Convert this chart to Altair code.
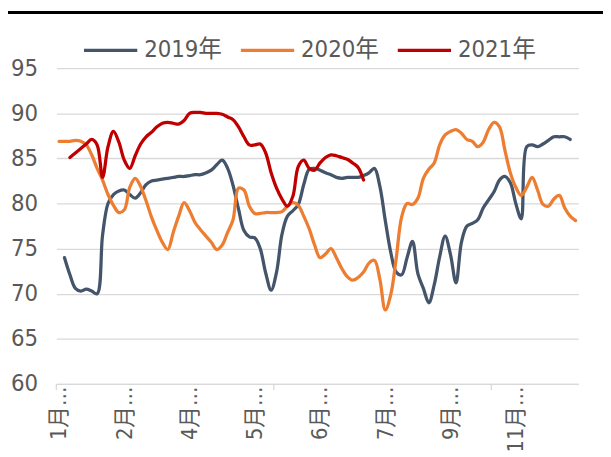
import json
import altair as alt
import pandas as pd

# ---- data ----
idx = list(range(96))
y2019 = [None, 74.0, 72.1, 70.6, 70.3, 70.5, 70.3, 70.0, 76.5, 80.0,
         81.0, 81.4, 81.5, 81.0, 80.6, 81.2, 82.1, 82.5, 82.6, 82.7,
         82.8, 82.9, 83.0, 83.0, 83.1, 83.2, 83.2, 83.4, 83.7, 84.3,
         84.8, 83.9, 82.0, 79.4, 77.0, 76.3, 76.2, 75.0, 72.3, 70.4,
         72.4, 76.6, 78.6, 79.2, 79.9, 82.1, 83.8, 83.9, 83.7, 83.4,
         83.2, 82.9, 82.8, 82.9, 82.9, 82.9, 83.1, 83.4, 83.9, 81.9,
         78.1, 74.6, 72.4, 72.1, 74.0, 75.8, 72.2, 70.6, 69.0, 71.0,
         74.1, 76.4, 74.3, 71.2, 75.7, 77.5, 77.8, 78.2, 79.5, 80.4,
         81.3, 82.6, 83.0, 82.3, 80.0, 78.3, 86.3, 86.5, 86.3, 86.6,
         87.0, 87.4, 87.4, 87.4, 87.1, None]
y2020 = [86.9, 86.9, 86.9, 87.0, 86.9, 86.5, 85.4, 83.9, 82.6, 81.0,
         79.8, 79.0, 79.3, 81.8, 82.8, 81.9, 80.3, 78.5, 77.0, 75.7,
         74.9, 76.8, 78.6, 80.1, 79.2, 77.9, 77.1, 76.4, 75.7, 74.9,
         75.4, 76.8, 78.2, 81.7, 81.5, 79.7, 78.9, 78.9, 79.0, 79.0,
         79.0, 79.1, 79.7, 80.1, 79.8, 78.6, 77.2, 75.4, 74.0, 74.4,
         75.0, 74.0, 72.8, 71.9, 71.5, 71.8, 72.4, 73.4, 73.7, 71.6,
         68.2, 69.9, 73.9, 78.5, 80.0, 79.9, 80.6, 82.8, 83.8, 84.5,
         86.5, 87.6, 88.0, 88.2, 87.8, 87.1, 86.9, 86.3, 86.8, 88.2,
         89.0, 88.5, 85.9, 83.4, 81.8, 80.9, 81.8, 82.9, 81.5, 79.9,
         79.7, 80.5, 80.9, 79.5, 78.6, 78.1]
y2021 = [None, None, 85.1, 85.6, 86.1, 86.6, 87.1, 86.5, 82.9, 86.3,
         88.0, 86.8, 84.8, 83.9, 85.3, 86.6, 87.4, 87.9, 88.5, 88.9,
         89.0, 88.9, 88.8, 89.2, 90.0, 90.1, 90.1, 90.0, 90.0, 90.0,
         89.9, 89.6, 89.3, 88.5, 87.4, 86.5, 86.5, 86.6, 85.6, 83.4,
         81.7, 80.5, 79.7, 80.8, 84.1, 84.8, 83.9, 83.7, 84.5, 85.1,
         85.4, 85.3, 85.1, 84.9, 84.5, 84.0, 82.6] + [None] * 39

years = ["2019年", "2020年", "2021年"]
colors = ["#44546A", "#ED7D31", "#C00000"]
widths = [3.3, 3.3, 5]
label_pos = [0, 12, 24, 36, 48, 60, 72, 84]
label_txt = ["1月…", "2月…", "4月…", "5月…", "6月…", "7月…", "9月…", "11月…"]
tick_pos = [-0.5, 39.5, 79.5]
y_ticks = [60, 65, 70, 75, 80, 85, 90, 95]

rows = []
for name, vals in zip(years, [y2019, y2020, y2021]):
    for i, v in zip(idx, vals):
        if v is not None:
            rows.append({"i": i, "v": v, "year": name})
df = pd.DataFrame(rows)
ticks_df = pd.DataFrame({"i": tick_pos})

FONT = "Liberation Sans Narrow, DejaVu Sans Condensed, Noto Sans CJK SC, sans-serif"
GRAY = "#595959"
GRID = "#D9D9D9"
label_expr = json.dumps(label_txt, ensure_ascii=False) + "[round(datum.value / 12)]"

x_scale = alt.Scale(domain=[-0.5, 95.5], nice=False, zero=False)
y_scale = alt.Scale(domain=[60, 95], nice=False, zero=False)

x_axis = alt.Axis(
    values=label_pos, labelExpr=label_expr, labelAngle=270,
    labelAlign="right", labelBaseline="middle", labelPadding=2,
    labelOverlap=False, labelFlush=False,
    ticks=False, grid=False, domainColor=GRID, domainWidth=1.3,
    labelFontSize=22, labelColor=GRAY, labelFont=FONT, title=None)

leg = alt.Legend(
    orient="none", legendX=26, legendY=-47, direction="horizontal", title=None,
    symbolType="stroke", symbolSize=2916, labelFontSize=24, labelFont=FONT,
    labelColor=GRAY, labelOffset=5, columnPadding=12, padding=0,
)

lines = alt.Chart(df).mark_line(
    interpolate="catmull-rom", strokeCap="round", strokeJoin="round"
).encode(
    x=alt.X("i:Q", scale=x_scale, axis=x_axis),
    y=alt.Y("v:Q", scale=y_scale, axis=alt.Axis(
        values=y_ticks, ticks=False, domain=False, gridColor=GRID,
        gridWidth=1.3, labelFontSize=24, labelColor=GRAY, labelFont=FONT,
        labelPadding=19, title=None)),
    color=alt.Color("year:N", scale=alt.Scale(domain=years, range=colors), legend=leg),
    strokeWidth=alt.StrokeWidth("year:N", scale=alt.Scale(domain=years, range=widths), legend=leg),
)

tick_marks = alt.Chart(ticks_df).mark_rule(color=GRID, strokeWidth=1.3).encode(
    x=alt.X("i:Q", scale=x_scale, axis=x_axis),
    y=alt.value(320), y2=alt.value(326),
)

top_line = alt.Chart(pd.DataFrame({"a": [0]})).mark_rule(color="black", strokeWidth=3, clip=False).encode(
    x=alt.value(-49), x2=alt.value(560), y=alt.value(-56.5),
)

chart = alt.layer(lines, tick_marks, top_line).properties(
    width=529, height=320,
    padding={"left": 49, "top": 58, "right": 25, "bottom": 71},
    autosize=alt.AutoSizeParams(type="none"),
).configure_view(stroke=None)

chart.save("out.html", embed_options={"renderer": "svg", "actions": False})
